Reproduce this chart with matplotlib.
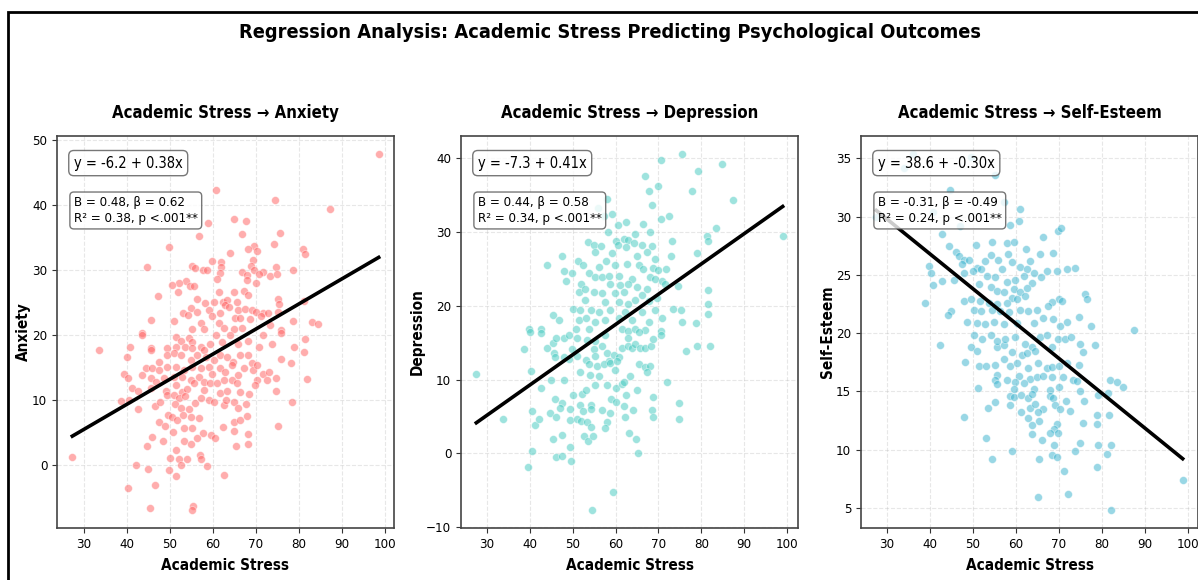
import matplotlib
matplotlib.use("Agg")
import matplotlib.pyplot as plt
from matplotlib.patches import Rectangle
import numpy as np

plt.rcParams['font.family'] = ['DejaVu Sans']
plt.rcParams['font.stretch'] = 'condensed'

# ---- data (Academic Stress on x) ----
anx_x = [98.5, 60.8, 74.4, 87.1, 64.8, 67.7, 58.8, 66.8, 75.5, 56.8, 74.2, 49.8, 69.5, 68.1, 70.3, 80.8,
         81.4, 64.0, 59.8, 61.9, 69.2, 44.6, 55.2, 55.7, 61.8, 68.8, 69.5, 57.7, 58.5, 66.8, 71.5, 74.6,
         78.7, 61.7, 68.0, 70.8, 73.3, 74.8, 60.9, 67.8, 70.0, 53.8, 52.2, 50.4, 54.6, 55.5, 64.9, 61.5,
         67.3, 51.8, 68.2, 56.3, 47.2, 58.2, 62.3, 63.2, 65.5, 75.2, 75.3, 81.1, 60.2, 62.9, 63.8, 54.9,
         53.1, 54.2, 56.3, 59.0, 61.7, 65.9, 67.5, 69.0, 71.7, 72.8, 70.1, 75.2, 45.5, 50.9, 59.8, 65.1,
         66.3, 68.6, 71.1, 78.5, 83.1, 84.5, 57.1, 61.5, 73.2, 43.6, 55.2, 57.8, 62.5, 64.8, 66.8, 75.7,
         33.5, 43.6, 40.7, 40.0, 45.5, 45.7, 49.2, 49.2, 51.3, 52.5, 54.4, 55.0, 51.5, 53.6, 55.2, 57.1,
         57.8, 59.4, 60.8, 62.2, 64.0, 65.9, 68.2, 71.5, 73.8, 75.8, 81.3, 78.8, 81.2, 70.6, 50.9, 52.6,
         54.8, 56.3, 58.4, 60.2, 61.7, 63.2, 64.6, 66.3, 68.2, 69.0, 75.8, 78.2, 47.5, 44.4, 45.9, 47.5,
         49.4, 51.5, 53.2, 55.2, 57.1, 59.0, 59.8, 61.7, 62.8, 64.4, 65.9, 67.1, 69.4, 71.7, 72.9, 70.3,
         39.4, 40.2, 43.6, 45.5, 46.7, 48.6, 50.9, 52.8, 54.8, 56.7, 57.8, 59.4, 60.9, 62.5, 64.4, 65.5,
         70.2, 72.6, 74.6, 81.8, 41.1, 42.6, 45.7, 49.0, 51.3, 52.8, 54.0, 55.5, 57.8, 61.7, 63.2, 66.3,
         68.3, 69.7, 74.6, 38.5, 40.4, 42.5, 46.5, 47.7, 49.4, 50.9, 52.1, 53.4, 51.1, 52.5, 54.4, 55.8,
         57.3, 59.0, 60.2, 62.5, 63.1, 64.8, 65.9, 67.7, 78.4, 49.5, 50.5, 51.7, 53.1, 54.8, 56.7, 47.5,
         48.8, 50.8, 53.2, 55.2, 57.6, 59.5, 60.5, 62.3, 64.8, 66.2, 64.9, 67.8, 68.1, 75.2, 45.8, 48.3,
         44.6, 53.2, 54.9, 56.3, 51.5, 56.9, 57.3, 65.3, 68.1, 27.3, 50.0, 52.1, 54.0, 58.6, 42.2, 45.0,
         49.8, 52.6, 51.5, 62.5, 40.2, 46.5, 45.4, 55.4, 55.1]
anx_y = [47.9, 42.4, 40.8, 39.4, 37.8, 37.6, 37.2, 35.6, 35.8, 35.3, 34.1, 33.5, 33.8, 33.3, 33.0, 33.3,
         32.5, 32.6, 31.4, 31.3, 31.5, 30.5, 30.7, 30.4, 30.5, 30.6, 30.1, 30.0, 30.0, 29.8, 29.8, 30.5,
         30.0, 29.5, 29.3, 29.4, 29.1, 29.4, 28.6, 28.5, 28.1, 28.4, 28.0, 27.7, 27.6, 27.5, 26.6, 26.7,
         26.8, 26.7, 26.2, 25.5, 26.0, 25.0, 25.1, 25.4, 25.1, 25.5, 24.8, 25.2, 25.1, 24.6, 24.3, 24.2,
         23.4, 23.1, 23.6, 23.9, 23.4, 23.9, 24.0, 23.9, 23.4, 23.4, 23.6, 23.6, 22.4, 22.2, 22.9, 22.7,
         22.7, 22.5, 22.9, 22.2, 22.0, 21.7, 21.9, 21.9, 21.6, 20.4, 20.9, 21.0, 21.1, 21.0, 21.1, 20.8,
         17.8, 20.1, 18.2, 16.6, 18.1, 17.7, 18.0, 16.9, 19.7, 19.1, 19.6, 19.0, 18.2, 18.2, 18.0, 18.2,
         17.7, 18.7, 20.0, 19.0, 20.0, 18.6, 19.1, 20.0, 18.6, 20.4, 19.5, 18.2, 17.5, 18.2, 17.2, 16.9,
         16.2, 16.9, 16.7, 16.2, 17.0, 16.7, 15.9, 16.9, 16.9, 15.7, 16.3, 15.8, 15.9, 14.9, 15.0, 14.6,
         15.1, 15.1, 14.6, 15.1, 14.9, 15.1, 14.1, 14.9, 14.4, 15.4, 13.9, 14.9, 14.6, 14.1, 14.4, 15.4,
         14.1, 13.4, 13.9, 13.4, 12.8, 13.4, 13.6, 13.6, 13.1, 13.6, 12.8, 12.6, 12.6, 13.1, 13.1, 12.6,
         13.1, 13.1, 13.4, 13.3, 11.9, 11.4, 11.9, 11.4, 12.3, 11.3, 11.8, 12.6, 11.6, 11.1, 11.4, 11.3,
         10.9, 12.3, 11.4, 9.9, 10.1, 8.6, 9.1, 9.8, 10.8, 10.8, 10.3, 10.6, 9.5, 8.8, 8.6, 9.6,
         10.3, 10.0, 9.7, 9.2, 10.0, 9.8, 8.8, 9.5, 9.8, 7.8, 7.5, 7.0, 7.7, 7.5, 7.2, 6.6,
         6.1, 5.1, 5.7, 5.8, 4.9, 4.6, 4.2, 5.9, 6.7, 7.0, 5.3, 7.6, 4.8, 6.1, 4.3, 3.7,
         2.9, 3.7, 3.3, 4.2, 2.3, 1.6, 1.0, 2.9, 3.3, 1.3, 1.1, 0.9, 1.0, -0.1, 0.1, -0.5,
         -0.7, -0.0, -1.7, -1.5, -3.5, -3.0, -6.5, -6.3, -6.9]

dep_x = [75.4, 70.6, 84.9, 79.3, 66.9, 69.8, 67.7, 77.9, 57.9, 87.5, 68.5, 55.8, 59.2, 57.2, 62.5, 70.5,
         72.5, 66.5, 60.6, 83.4, 58.2, 68.1, 64.6, 81.4, 99.0, 81.6, 53.6, 60.0, 62.0, 63.0, 73.2, 54.9,
         56.7, 60.6, 62.5, 64.2, 66.1, 68.4, 55.3, 67.3, 59.2, 65.1, 72.9, 78.9, 47.6, 51.2, 57.8, 69.2,
         52.4, 43.9, 56.1, 59.9, 62.7, 65.4, 66.5, 68.8, 70.0, 71.7, 48.0, 49.9, 53.9, 55.3, 56.9, 58.4,
         60.7, 63.8, 68.1, 69.2, 70.8, 71.5, 74.5, 48.5, 51.9, 58.8, 61.1, 63.0, 65.0, 67.3, 51.4, 52.9,
         54.9, 56.9, 59.9, 61.9, 64.6, 66.1, 67.8, 69.6, 81.6, 52.8, 57.6, 60.7, 63.0, 81.6, 50.1, 51.8,
         54.2, 56.1, 58.8, 62.3, 66.1, 69.2, 73.5, 75.2, 45.5, 46.8, 81.6, 51.4, 53.2, 55.3, 57.6, 60.7,
         63.8, 67.7, 70.8, 75.4, 78.7, 39.9, 42.7, 50.7, 53.8, 61.5, 63.0, 64.6, 66.9, 70.5,
         27.5, 38.7, 40.0, 42.7, 43.9, 45.3, 46.0, 45.7, 45.8, 48.0, 49.1, 50.9, 49.9, 51.1, 48.0, 49.1,
         53.4, 55.3, 56.9, 54.9, 55.3, 57.6, 57.9, 58.4, 59.6, 60.7, 61.5, 63.0, 63.8, 63.0, 64.6, 65.7,
         66.9, 68.3, 68.8, 70.6, 65.4, 76.4, 79.1, 82.0, 53.0, 53.8, 55.7, 57.2, 58.8, 60.3, 51.8, 54.0,
         56.1, 59.8, 65.5, 66.9, 68.1, 67.3, 63.4, 40.2, 42.7, 44.9, 48.0, 55.2, 57.9, 60.0, 61.4, 61.9,
         72.0, 50.1, 52.1, 53.2, 58.9, 62.4, 65.0, 68.8, 45.8, 47.6, 51.6, 54.2, 60.2, 61.9, 74.9, 40.6,
         44.7, 47.0, 49.3, 52.4, 54.2, 56.9, 58.8, 64.0, 68.4, 33.7, 41.2, 42.2, 46.0, 49.4, 50.9, 52.0,
         53.4, 54.2, 58.0, 57.5, 62.3, 68.8, 74.7, 45.3, 47.6, 52.6, 53.5, 54.7, 63.2, 64.7, 49.3, 40.4,
         46.0, 47.6, 49.7, 65.2, 39.6, 59.4, 54.4]
dep_y = [40.6, 39.7, 39.2, 38.3, 37.6, 36.3, 35.6, 35.5, 34.5, 34.3, 33.6, 33.2, 32.5, 32.2, 31.4, 31.8,
         32.2, 31.1, 30.9, 30.6, 30.0, 30.0, 29.8, 29.5, 29.4, 28.8, 28.7, 28.8, 29.1, 28.9, 28.8, 28.2,
         28.1, 28.2, 28.0, 28.5, 28.2, 28.1, 27.3, 27.3, 27.1, 26.8, 26.8, 27.1, 26.7, 26.1, 26.1, 26.4,
         25.5, 25.5, 25.3, 25.5, 25.7, 25.5, 25.0, 25.1, 24.8, 25.0, 24.7, 24.4, 24.4, 23.9, 23.9, 24.0,
         24.1, 23.7, 23.9, 23.7, 23.4, 23.0, 22.7, 23.4, 23.0, 23.0, 22.8, 23.0, 22.6, 22.3, 21.9, 22.3,
         21.9, 21.7, 21.7, 21.9, 20.8, 21.4, 20.7, 21.0, 22.2, 20.8, 20.5, 20.5, 20.3, 20.3, 19.5, 19.4,
         19.4, 19.2, 19.4, 19.2, 19.2, 19.4, 19.5, 19.4, 18.7, 18.1, 18.9, 18.1, 18.3, 17.8, 18.1, 18.3,
         18.1, 17.8, 18.3, 17.8, 17.7, 16.8, 16.8, 16.9, 16.8, 16.8, 16.6, 16.8, 16.7, 16.6,
         10.8, 14.1, 16.4, 16.3, 14.3, 14.9, 15.7, 13.6, 13.0, 15.7, 16.1, 15.7, 14.1, 13.2, 13.0, 12.8,
         15.4, 15.2, 14.6, 14.1, 13.2, 16.1, 13.6, 12.5, 13.4, 13.0, 14.3, 14.5, 14.3, 15.7, 14.8, 14.3,
         14.3, 14.5, 15.5, 16.1, 16.4, 13.9, 14.6, 14.6, 12.7, 12.1, 11.8, 12.1, 12.3, 12.5, 11.0, 10.6,
         10.5, 11.3, 12.1, 11.7, 11.8, 11.0, 10.5, 11.2, 8.8, 9.9, 9.9, 9.2, 9.2, 8.9, 9.4, 9.7,
         9.7, 7.9, 8.1, 8.6, 7.4, 7.9, 8.6, 7.6, 7.4, 6.8, 6.5, 6.5, 6.9, 6.4, 6.8, 5.7,
         5.5, 6.1, 6.0, 5.7, 6.0, 5.9, 5.5, 5.9, 5.9, 4.7, 3.9, 4.7, 4.9, 4.5, 4.6, 4.4,
         4.2, 3.6, 4.3, 3.4, 4.9, 4.9, 4.6, 1.9, 2.5, 2.3, 1.7, 2.3, 2.8, 2.0, 0.8, 0.3,
         -0.5, -0.4, -1.1, 0.0, -1.8, -5.3, -7.7]

se_x = [27.5, 36.0, 33.9, 49.5, 55.2, 44.7, 57.3, 61.0, 40.8, 46.9, 58.7, 60.8, 69.8, 70.5, 42.9, 66.4,
        54.5, 57.9, 59.5, 44.3, 50.6, 62.3, 46.0, 46.8, 47.9, 54.1, 58.1, 63.3, 65.6, 68.7, 55.8, 39.8,
        40.2, 47.5, 49.1, 51.0, 52.9, 59.1, 61.0, 62.5, 64.1, 67.2, 69.5, 71.9, 73.7, 45.5, 47.9, 50.0,
        51.9, 53.3, 55.2, 56.8, 57.9, 59.8, 61.8, 63.7, 65.8, 40.6, 42.8, 51.4, 54.1, 55.6, 57.1, 59.5,
        61.0, 62.5, 59.1, 60.2, 62.1, 76.1, 76.5, 70.1, 70.8, 38.8, 47.9, 49.5, 51.6, 53.7, 55.6, 57.9,
        68.3, 44.8, 44.1, 50.2, 51.9, 54.5, 56.4, 58.3, 61.0, 62.9, 64.8, 67.5, 66.4, 68.7, 74.6, 48.7,
        51.0, 52.7, 54.8, 57.1, 60.2, 64.1, 70.2, 71.8, 77.5, 87.5,
        42.4, 48.1, 49.5, 50.2, 52.1, 51.0, 54.1, 55.5, 57.1, 59.1, 55.6, 57.5, 59.8, 62.1, 63.7, 65.6,
        67.2, 68.5, 69.8, 71.4, 72.9, 75.0, 75.5, 78.5, 61.5, 62.5, 64.5, 51.4, 53.1, 55.2, 57.1, 58.7,
        60.2, 62.9, 65.2, 67.2, 68.3, 70.1, 71.9, 74.7, 55.6, 55.1, 57.9, 60.8, 63.3, 64.8, 66.4, 68.3,
        71.0, 73.3, 74.2, 81.8, 83.4, 84.8, 51.1, 55.5, 59.8, 59.6, 61.8, 64.1, 67.9, 70.1, 75.0, 79.1,
        81.4, 58.7, 59.5, 61.2, 62.8, 63.7, 67.9, 68.7, 71.7, 75.8, 55.2, 58.7, 53.4, 63.3, 64.5, 66.4,
        69.1, 70.2, 72.5, 61.2, 65.2, 78.9, 81.6, 47.8, 62.9, 65.4, 63.7, 69.5, 68.9, 75.6, 78.9, 67.9,
        69.8, 63.7, 53.1, 66.0, 68.8, 74.8, 79.1, 82.2, 59.0, 73.7, 81.2, 54.5, 65.4, 68.3, 69.5, 78.8,
        71.1, 98.8, 65.2, 72.1, 82.2]
se_y = [30.0, 35.4, 34.2, 35.1, 33.6, 32.3, 31.3, 30.7, 30.4, 29.2, 29.3, 29.6, 28.8, 29.0, 28.5, 28.3,
        27.8, 27.7, 27.8, 27.5, 27.6, 27.2, 27.0, 26.6, 26.3, 26.7, 26.8, 26.2, 26.8, 26.9, 26.3, 25.8,
        25.2, 25.9, 26.3, 25.6, 26.2, 26.1, 25.7, 25.5, 25.2, 25.3, 25.3, 25.5, 25.6, 24.6, 25.2, 25.3,
        25.5, 24.9, 24.8, 25.5, 24.4, 24.6, 24.9, 24.3, 24.8, 24.1, 24.5, 24.2, 24.0, 23.6, 23.5, 23.8,
        23.5, 23.9, 23.0, 22.9, 23.2, 23.4, 22.9, 22.9, 22.8, 22.6, 22.8, 22.9, 22.8, 22.6, 22.5, 22.6,
        22.7, 21.9, 21.6, 22.0, 21.9, 22.0, 21.9, 21.8, 22.0, 21.9, 22.0, 22.3, 21.3, 21.2, 21.4, 21.0,
        20.9, 20.8, 21.0, 20.8, 20.9, 20.9, 20.6, 21.0, 20.6, 20.3,
        19.0, 17.5, 18.8, 19.8, 19.5, 18.5, 19.8, 18.8, 19.0, 18.4, 19.3, 19.5, 19.7, 19.1, 18.8, 19.7,
        19.8, 18.8, 19.5, 19.5, 19.7, 19.1, 18.4, 19.0, 18.1, 18.3, 18.5, 17.2, 17.2, 17.3, 17.8, 17.2,
        17.4, 17.0, 17.4, 17.0, 17.1, 17.2, 17.4, 17.3, 16.4, 16.0, 16.0, 16.3, 16.1, 16.2, 16.3, 16.2,
        16.2, 16.0, 15.9, 16.0, 15.8, 15.4, 15.3, 15.6, 15.8, 15.2, 15.7, 15.2, 15.1, 15.4, 15.0, 14.7,
        14.9, 14.6, 14.5, 14.7, 14.4, 14.8, 14.6, 14.4, 14.2, 14.2, 14.1, 13.8, 13.6, 13.6, 13.9, 13.5,
        13.8, 13.5, 13.3, 13.2, 13.2, 13.0, 13.0, 12.8, 12.7, 12.5, 12.1, 12.2, 11.8, 12.3, 12.2, 11.4,
        11.4, 11.3, 11.0, 10.8, 10.4, 10.6, 10.4, 10.4, 9.9, 9.9, 9.6, 9.2, 9.2, 9.5, 9.4, 8.5,
        8.2, 7.4, 5.9, 6.2, 4.8]

outcomes = ['Anxiety', 'Depression', 'Self-Esteem']
colors = ['#FF6B6B', '#4ECDC4', '#45B7D1']
intercepts = [-6.05, -7.13, 38.76]
slopes = [0.386, 0.410, -0.299]
eq_labels = ['y = -6.2 + 0.38x', 'y = -7.3 + 0.41x', 'y = 38.6 + -0.30x']
stat_labels = ['B = 0.48, β = 0.62\nR² = 0.38, p <.001**',
               'B = 0.44, β = 0.58\nR² = 0.34, p <.001**',
               'B = -0.31, β = -0.49\nR² = 0.24, p <.001**']
xs = [anx_x, dep_x, se_x]
ys = [anx_y, dep_y, se_y]

fig = plt.figure(figsize=(11.98, 5.80), dpi=100)
W, H = 1198, 580
lefts = [57, 461, 861]
axes = []
for l in lefts:
    axes.append(fig.add_axes([l / W, (H - 528) / H, 337 / W, 392 / H]))

for i, ax in enumerate(axes):
    x = np.array(xs[i])
    y = np.array(ys[i])
    ax.scatter(x, y, s=32, color=colors[i], alpha=0.55, edgecolors='white', linewidths=0.5, zorder=2)
    xl = np.array([x.min(), x.max()])
    ax.plot(xl, intercepts[i] + slopes[i] * xl, color='black', lw=2.6, zorder=3)
    ax.set_title(f'Academic Stress → {outcomes[i]}', fontsize=12, fontweight='bold', pad=13)
    ax.set_xlabel('Academic Stress', fontsize=11, fontweight='bold', labelpad=5)
    ax.set_ylabel(outcomes[i], fontsize=11, fontweight='bold', labelpad=1)
    ax.set_xticks([30, 40, 50, 60, 70, 80, 90, 100])
    ax.tick_params(labelsize=9.5, color='#333333')
    ax.grid(True, linestyle='--', alpha=0.3, zorder=0)
    for sp in ax.spines.values():
        sp.set_color('#444444')
        sp.set_linewidth(1.2)
    ax.text(0.05, 0.95, eq_labels[i], transform=ax.transAxes, fontsize=10.5, va='top',
            bbox=dict(boxstyle='round,pad=0.35', facecolor='white', edgecolor='#555555', alpha=0.8),
            zorder=5)
    ax.text(0.05, 0.847, stat_labels[i], transform=ax.transAxes, fontsize=9.5, va='top',
            linespacing=1.3,
            bbox=dict(boxstyle='round,pad=0.3', facecolor='white', edgecolor='#555555', alpha=0.8),
            zorder=5)

fig.text(610 / W, 1 - 33 / H, 'Regression Analysis: Academic Stress Predicting Psychological Outcomes',
         ha='center', va='center', fontsize=14.3, fontweight='bold')

fig.patches.append(Rectangle((8 / W, -0.05), 1.2, 1 - 12 / H + 0.05, transform=fig.transFigure,
                             fill=False, edgecolor='black', linewidth=2))

fig.savefig('out.png', dpi=100)
